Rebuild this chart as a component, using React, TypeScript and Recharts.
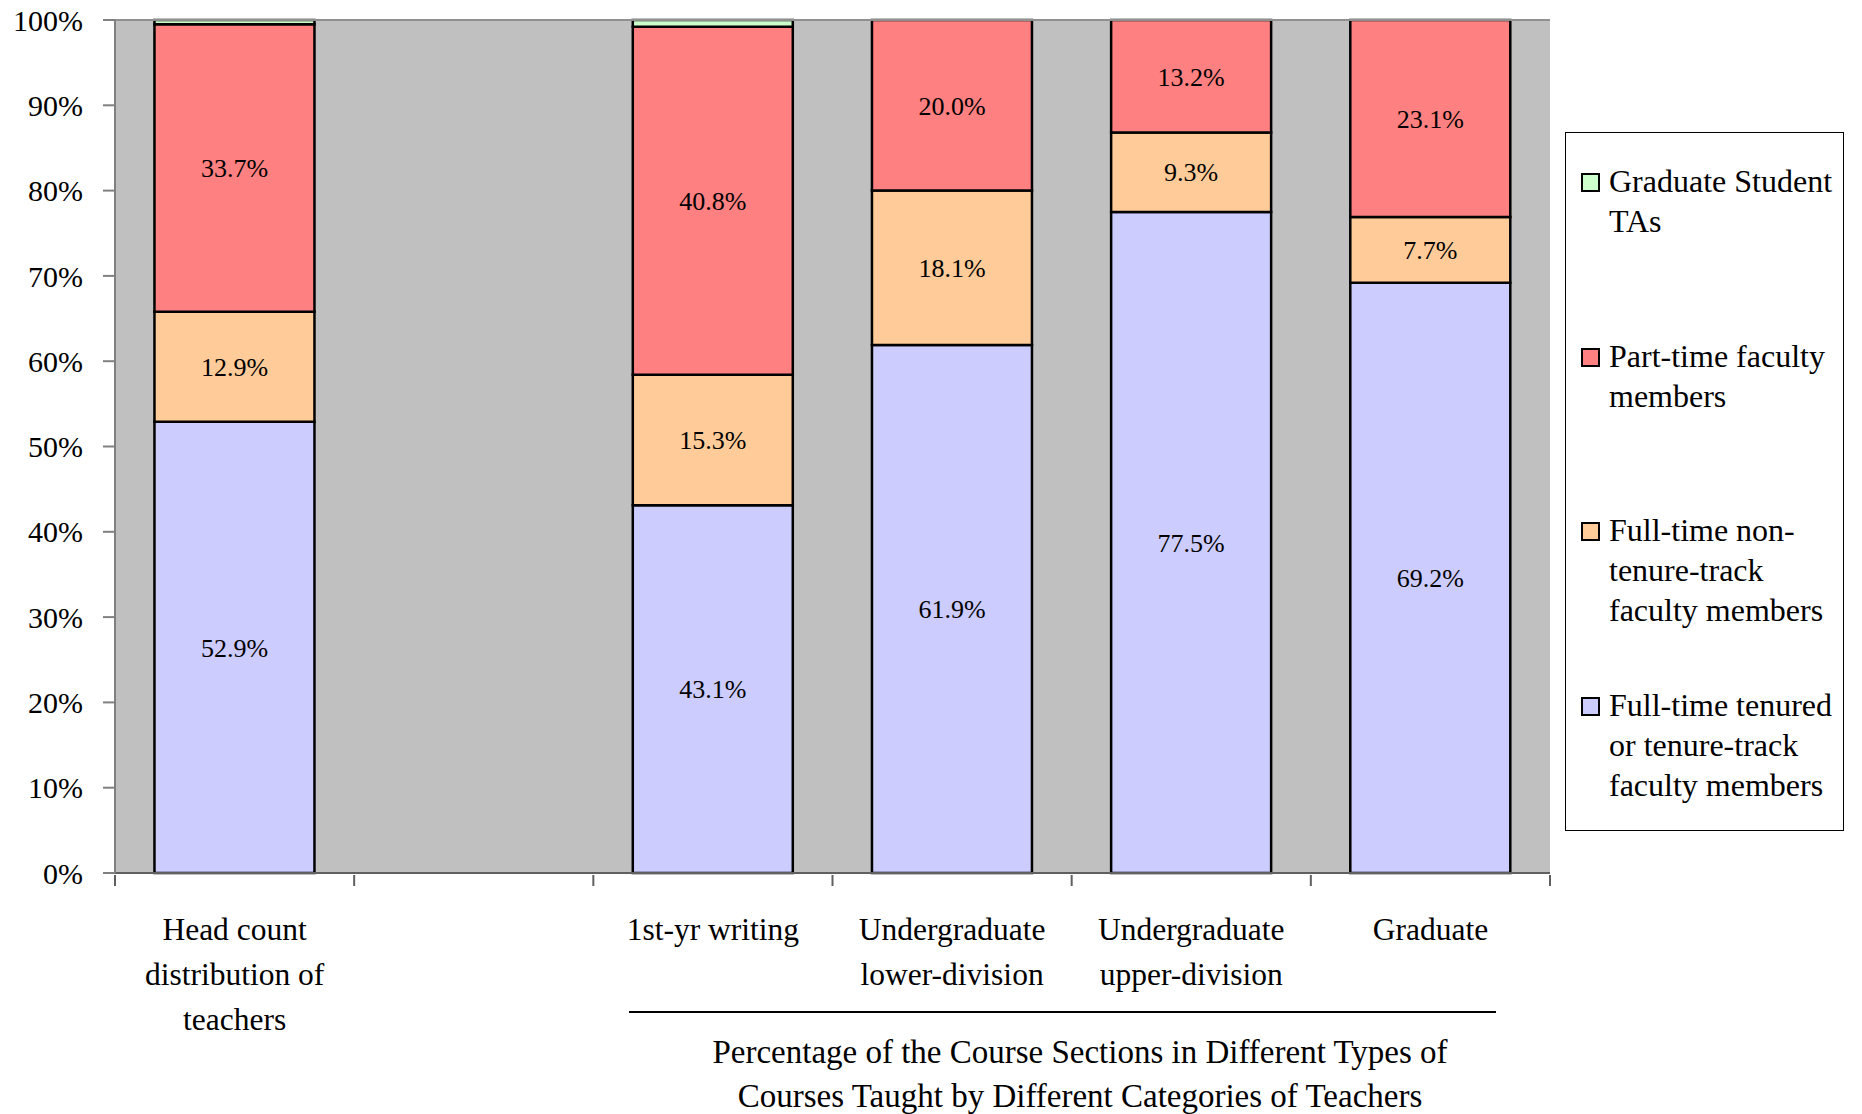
import { Bar, BarChart, CartesianGrid, LabelList, ReferenceLine, XAxis, YAxis } from "recharts";

const categories = [
  "Head count\ndistribution of\nteachers",
  "",
  "1st-yr writing",
  "Undergraduate\nlower-division",
  "Undergraduate\nupper-division",
  "Graduate",
];
const tenured = [52.9, null, 43.1, 61.9, 77.5, 69.2];
const nonTenure = [12.9, null, 15.3, 18.1, 9.3, 7.7];
const partTime = [33.7, null, 40.8, 20.0, 13.2, 23.1];
const gradTAs = [0.5, null, 0.8, 0, 0, 0];
const yTicks = [0, 10, 20, 30, 40, 50, 60, 70, 80, 90, 100];

const series = [
  { key: "tenured", name: "Full-time tenured\nor tenure-track\nfaculty members", color: "#CCCCFF", values: tenured, label: true },
  { key: "nonTenure", name: "Full-time non-\ntenure-track\nfaculty members", color: "#FFCC99", values: nonTenure, label: true },
  { key: "partTime", name: "Part-time faculty\nmembers", color: "#FF8080", values: partTime, label: true },
  { key: "gradTAs", name: "Graduate Student\nTAs", color: "#CCFFCC", values: gradTAs, label: false },
];

const data = categories.map((name, i) => {
  const row: Record<string, any> = { name };
  series.forEach((s) => (row[s.key] = s.values[i]));
  return row;
});

const FONT = '"Liberation Serif", "Times New Roman", serif';

function CategoryTick(props: any) {
  const { x, y, payload, index, visibleTicksCount } = props;
  const half = payload.offset ?? 0;
  const lines = String(payload.value).split("\n").filter((l) => l.length);
  const last = index === visibleTicksCount - 1;
  return (
    <g>
      <line x1={x - half} x2={x - half} y1={y} y2={y + 11} stroke="#606060" strokeWidth={2} />
      {last && <line x1={x + half} x2={x + half} y1={y} y2={y + 11} stroke="#606060" strokeWidth={2} />}
      <text x={x} y={y + 65} textAnchor="middle" fontFamily={FONT} fontSize={31.5} fill="#000">
        {lines.map((l, i) => (
          <tspan key={i} x={x} dy={i === 0 ? 0 : 45}>
            {l}
          </tspan>
        ))}
      </text>
    </g>
  );
}

function LegendBox() {
  const items = [...series].reverse();
  return (
    <div
      style={{
        position: "absolute",
        left: 1565,
        top: 132,
        width: 277,
        height: 697,
        border: "1px solid #000",
        background: "#fff",
        fontFamily: FONT,
        fontSize: 32,
        color: "#000",
      }}
    >
      {items.map((s, i) => (
        <div key={s.key} style={{ position: "absolute", left: 15, top: 28 + i * 174.5, display: "flex" }}>
          <div
            style={{
              width: 15,
              height: 15,
              background: s.color,
              border: "2px solid #000",
              marginTop: 12,
              marginRight: 9,
              flexShrink: 0,
            }}
          />
          <div style={{ lineHeight: "40px", whiteSpace: "pre" }}>{s.name}</div>
        </div>
      ))}
    </div>
  );
}

export default function App() {
  return (
    <div style={{ position: "absolute", left: 0, top: 0, width: 1862, height: 1114, background: "#fff" }}>
      <BarChart
        width={1862}
        height={1114}
        data={data}
        margin={{ top: 20, right: 312, left: 0, bottom: 0 }}
        barCategoryGap="16.5%"
      >
        <CartesianGrid horizontal={false} vertical={false} fill="#C0C0C0" />
        <XAxis
          dataKey="name"
          height={241}
          interval={0}
          tickSize={0}
          tickLine={false}
          axisLine={{ stroke: "#606060", strokeWidth: 2 }}
          tick={<CategoryTick />}
        />
        <YAxis
          width={115}
          domain={[0, 100]}
          ticks={yTicks}
          interval={0}
          tickFormatter={(v) => `${v}%`}
          tickSize={12}
          tickMargin={20}
          axisLine={{ stroke: "#808080", strokeWidth: 2 }}
          tickLine={{ stroke: "#808080", strokeWidth: 2 }}
          tick={{ fontFamily: FONT, fontSize: 30, fill: "#000" }}
        />
        <ReferenceLine y={100} stroke="#909090" strokeWidth={2} />
        {series.map((s) => (
          <Bar
            key={s.key}
            dataKey={s.key}
            name={s.name}
            stackId="a"
            fill={s.color}
            stroke="#000"
            strokeWidth={2.5}
            isAnimationActive={false}
          >
            {s.label && (
              <LabelList
                dataKey={s.key}
                position="center"
                formatter={(v: any) => (v == null ? "" : `${Number(v).toFixed(1)}%`)}
                style={{ fontFamily: FONT, fontSize: 26, fill: "#000" }}
              />
            )}
          </Bar>
        ))}
      </BarChart>
      <LegendBox />
      <div style={{ position: "absolute", left: 629, top: 1011, width: 867, height: 2, background: "#000" }} />
      <div
        style={{
          position: "absolute",
          left: 580,
          top: 1030,
          width: 1000,
          textAlign: "center",
          fontFamily: FONT,
          fontSize: 33,
          lineHeight: "44px",
          color: "#000",
        }}
      >
        Percentage of the Course Sections in Different Types of
        <br />
        Courses Taught by Different Categories of Teachers
      </div>
    </div>
  );
}
